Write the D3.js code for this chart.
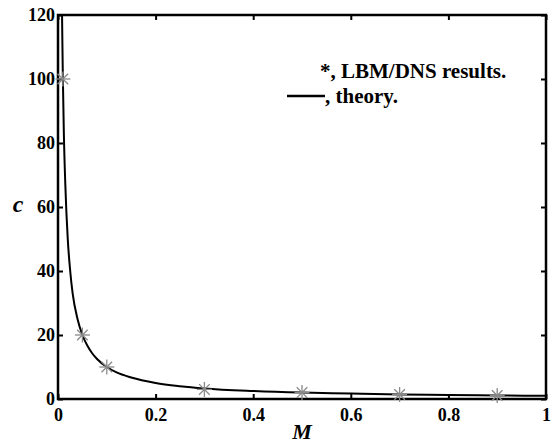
<!DOCTYPE html>
<html>
<head>
<meta charset="utf-8">
<script src="https://cdn.jsdelivr.net/npm/d3@7"></script>
<style>
  body { margin: 0; background: #fff; }
  text { font-family: "Liberation Serif", "DejaVu Serif", serif; font-weight: bold; }
</style>
</head>
<body>
<div class="chart"></div>
<script>
(function chart() {

  'use strict';

  // LBM/DNS results
  var simM = [0.01, 0.05, 0.1, 0.3, 0.5, 0.7, 0.9];
  var simC = [100, 20, 10, 3.0, 2, 1.4, 1.1];

  // theory curve, points
  var theoryM = [0.0083, 0.009, 0.01, 0.012, 0.015, 0.02, 0.025, 0.03, 0.04, 0.05, 0.06, 0.07, 0.08, 0.1, 0.12, 0.15, 0.2, 0.25, 0.3, 0.4, 0.5, 0.6, 0.7, 0.8, 0.9, 1.0];
  var theoryC = [120, 111, 100, 83, 67, 50, 40, 33, 25, 20, 16.7, 14.3, 12.5, 10, 8.3, 6.7, 5, 4, 3.3, 2.5, 2, 1.7, 1.4, 1.25, 1.1, 1.0];

  var xTicks = [0, 0.2, 0.4, 0.6, 0.8, 1];
  var yTicks = [0, 20, 40, 60, 80, 100, 120];

  var margins = { top: 15, right: 7, bottom: 42, left: 58 };
  var width = 553, height = 441;
  var w = width - margins.left - margins.right;
  var h = height - margins.top - margins.bottom;

  var svg = d3.select('.chart').append('svg')
    .attr('width', width)
    .attr('height', height);

  var g = svg.append('g')
    .attr('transform', 'translate(' + margins.left + ',' + margins.top + ')');

  var x = d3.scaleLinear().domain([0, 1]).range([0, w]);
  var y = d3.scaleLinear().domain([0, 120]).range([h, 0]);

  function fmt(d) { return String(d); }

  var tickLen = 5;

  // axes: bottom & left with labels, top & right ticks only
  var xAxis = g.append('g').attr('transform', 'translate(0,' + h + ')')
    .call(d3.axisBottom(x).tickValues(xTicks).tickSize(-tickLen).tickPadding(9).tickFormat(fmt));
  var yAxis = g.append('g')
    .call(d3.axisLeft(y).tickValues(yTicks).tickSize(-tickLen).tickPadding(3).tickFormat(fmt));
  var xTop = g.append('g')
    .call(d3.axisTop(x).tickValues(xTicks).tickSize(-tickLen).tickFormat(''));
  var yRight = g.append('g').attr('transform', 'translate(' + w + ',0)')
    .call(d3.axisRight(y).tickValues(yTicks).tickSize(-tickLen).tickFormat(''));

  [xAxis, yAxis, xTop, yRight].forEach(function (a) {
    a.select('.domain').remove();
    a.selectAll('line').attr('stroke', '#000').attr('stroke-width', 2);
    a.selectAll('text').attr('fill', '#000').style('font-size', '18px').style('font-weight', 'bold');
  });

  // frame
  g.append('rect')
    .attr('width', w)
    .attr('height', h)
    .attr('fill', 'none')
    .attr('stroke', '#000')
    .attr('stroke-width', 2.5);

  // theory line
  var line = d3.line()
    .x(function (d) { return x(d[0]); })
    .y(function (d) { return y(d[1]); })
    .curve(d3.curveMonotoneX);

  g.append('path')
    .datum(d3.zip(theoryM, theoryC))
    .attr('d', line)
    .attr('fill', 'none')
    .attr('stroke', '#000')
    .attr('stroke-width', 2);

  // asterisk markers
  function star(sel, r) {
    [0, 45, 90, 135].forEach(function (a) {
      var rad = a * Math.PI / 180;
      sel.append('line')
        .attr('x1', -r * Math.cos(rad)).attr('y1', -r * Math.sin(rad))
        .attr('x2', r * Math.cos(rad)).attr('y2', r * Math.sin(rad));
    });
  }

  g.selectAll('.pt')
    .data(d3.zip(simM, simC))
    .enter()
  .append('g')
    .attr('class', 'pt')
    .attr('stroke', '#8a8a8a')
    .attr('stroke-width', 1.3)
    .attr('transform', function (d) { return 'translate(' + x(d[0]) + ',' + y(d[1]) + ')'; })
    .each(function () { star(d3.select(this), 7.5); });

  // legend
  svg.append('text')
    .attr('x', 320).attr('y', 78)
    .style('font-size', '21px')
    .text('*, LBM/DNS results.');
  svg.append('line')
    .attr('x1', 287).attr('x2', 325)
    .attr('y1', 96).attr('y2', 96)
    .attr('stroke', '#000').attr('stroke-width', 2.5);
  svg.append('text')
    .attr('x', 325).attr('y', 103)
    .style('font-size', '21px')
    .text(', theory.');

  // axis labels
  svg.append('text')
    .attr('x', 302).attr('y', 439)
    .attr('text-anchor', 'middle')
    .style('font-size', '22px').style('font-style', 'italic')
    .text('M');
  svg.append('text')
    .attr('x', 18).attr('y', 212)
    .attr('text-anchor', 'middle')
    .style('font-size', '24px').style('font-style', 'italic')
    .text('c');
})();
</script>
</body>
</html>
